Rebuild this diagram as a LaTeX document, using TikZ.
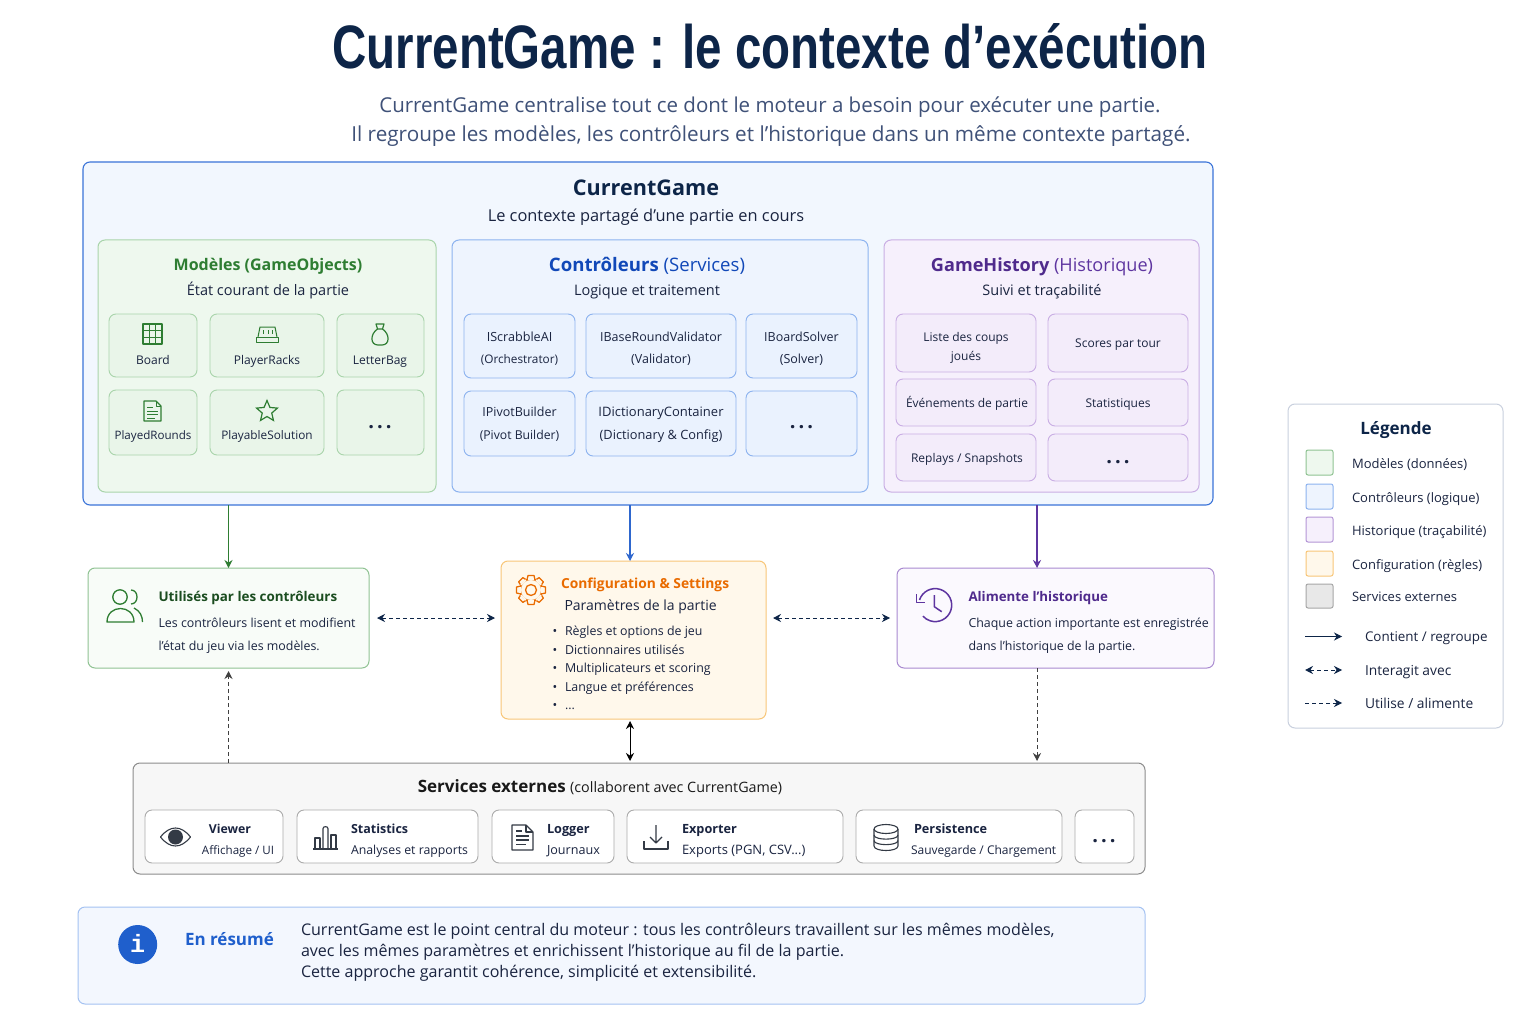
\documentclass[tikz,border=0pt]{standalone}
\usepackage{fontspec}
\usepackage{graphicx}
\setmainfont{Open Sans}
\newfontfamily\titlefont{Liberation Sans}
\newfontfamily\infofont{Liberation Mono}
\usetikzlibrary{arrows.meta,shapes.geometric,calc}
\definecolor{navy}{HTML}{0D2548}
\definecolor{ink}{HTML}{1A2440}
\definecolor{subt}{HTML}{3F5178}
\definecolor{gS}{HTML}{A9D4AB}\definecolor{gF}{HTML}{EEF8EE}\definecolor{gC}{HTML}{E9F5E9}\definecolor{gD}{HTML}{2E7D32}\definecolor{gDD}{HTML}{1B4D20}
\definecolor{bS}{HTML}{8DB3EF}\definecolor{bF}{HTML}{EEF4FE}\definecolor{bC}{HTML}{EAF2FE}\definecolor{bD}{HTML}{1148B8}\definecolor{bM}{HTML}{3B74D8}\definecolor{bR}{HTML}{1F5FCC}
\definecolor{pS}{HTML}{C9AEE4}\definecolor{pF}{HTML}{F6F0FC}\definecolor{pC}{HTML}{F3ECFA}\definecolor{pD}{HTML}{4F2A8C}\definecolor{pM}{HTML}{5E35A0}
\definecolor{oS}{HTML}{F8C678}\definecolor{oF}{HTML}{FFF8EB}\definecolor{oD}{HTML}{E96B00}
\definecolor{xS}{HTML}{8C8C8C}\definecolor{xC}{HTML}{ABABAB}\definecolor{xI}{HTML}{333A45}
\definecolor{legS}{HTML}{C9D0DE}
\newcommand{\fs}[1]{\fontsize{#1}{#1}\selectfont}
\newcounter{tn}
\newcommand{\tx}[6][mid]{\stepcounter{tn}\node[anchor=#1,inner sep=0pt,outer sep=0pt,text=#5,font=\fs{#4},yshift={2.26pt-0.33*#4 pt}] (t\arabic{tn}) at (#2,#3) {#6};}
\newcommand{\bx}[6]{\pgfmathsetmacro\bw{#5-#3}\pgfmathsetmacro\bh{#6-#4}\node[#2,anchor=north west,minimum width=\bw pt,minimum height=\bh pt] (#1) at (#3,#4) {};}
\newcommand{\cellmore}{\textbf{.\hspace{3pt}.\hspace{3pt}.}}
\tikzset{
  x=1pt,y=-1pt,
  base/.style={draw,rectangle,rounded corners=7pt,inner sep=0pt,outer sep=0pt,line width=1pt},
  cgbox/.style={base,draw=bM,fill=bF!75!white,line width=1.1pt},
  mbox/.style={base,draw=gS,fill=gF},
  cbox/.style={base,draw=bS,fill=bF},
  hbox/.style={base,draw=pS,fill=pF},
  mcell/.style={base,draw=gS,fill=gC,line width=.9pt},
  ccell/.style={base,draw=bS,fill=bC,line width=.9pt},
  hcell/.style={base,draw=pS,fill=pC,line width=.9pt},
  usedbox/.style={base,draw=gS!80!gD,fill=gF!40!white},
  cfgbox/.style={base,draw=oS,fill=oF},
  histbox/.style={base,draw=pS!70!pM,fill=pF!40!white},
  extbox/.style={base,draw=xS,fill=white!97!black},
  extcell/.style={base,draw=xC,fill=white,line width=.9pt},
  sumbox/.style={base,draw=bS!80!white,fill=bF!70!white},
  legbox/.style={base,draw=legS,fill=white},
  sw/.style={base,rounded corners=2pt},
  gI/.style={draw=gD,line width=1.2pt,line join=round},
  xIc/.style={draw=xI,line width=1.1pt,line join=round},
  tipS/.style={-{Stealth[length=8pt,width=8pt]}},
  tipB/.style={{Stealth[length=8pt,width=8pt]}-{Stealth[length=8pt,width=8pt]}},
  dsh/.style={dash pattern=on 4pt off 3pt},
  lk/.style={line width=1pt,draw=navy},
}
\begin{document}
\begin{tikzpicture}
\path[use as bounding box,fill=white] (0,0) rectangle (1536,1024);
% title
\tx[center]{770}{35.4}{40}{navy}{\resizebox{875pt}{45pt}{\titlefont\bfseries CurrentGame : le contexte d’exécution}}
\tx{770}{105}{20.5}{subt}{CurrentGame centralise tout ce dont le moteur a besoin pour exécuter une partie.}
\tx{771}{134}{20.7}{subt}{Il regroupe les modèles, les contrôleurs et l’historique dans un même contexte partagé.}
% main container
\bx{cg}{cgbox}{83}{162}{1213}{505}
\tx{646}{188}{21.6}{navy}{\textbf{CurrentGame}}
\tx{646}{216}{16.4}{ink}{Le contexte partagé d’une partie en cours}
\bx{models}{mbox}{98}{240}{436}{492}
\bx{ctrls}{cbox}{452}{240}{868}{492}
\bx{hists}{hbox}{884}{240}{1199}{492}
\tx{268}{265}{16}{gD}{\textbf{Modèles (GameObjects)}}
\tx{268}{290}{14.5}{ink}{État courant de la partie}
\tx{647}{265}{18.6}{bD}{\textbf{Contrôleurs} (Services)}
\tx{647}{290}{14.5}{ink}{Logique et traitement}
\tx{1042}{265}{18.1}{pD}{\textbf{GameHistory} {\color{pM}(Historique)}}
\tx{1042}{290}{14.5}{ink}{Suivi et traçabilité}
% model cells
\bx{mA}{mcell}{109}{314}{197}{377}
\bx{mB}{mcell}{210}{314}{324}{377}
\bx{mC}{mcell}{337}{314}{424}{377}
\bx{mD}{mcell}{109}{390}{197}{455}
\bx{mE}{mcell}{210}{390}{324}{455}
\bx{mF}{mcell}{337}{390}{424}{455}
\tx{153}{360}{12}{ink}{Board}
\tx{267}{360}{12}{ink}{PlayerRacks}
\tx{380}{360}{12}{ink}{LetterBag}
\tx{153}{435}{11.6}{ink}{PlayedRounds}
\tx{267}{435}{11.8}{ink}{PlayableSolution}
\tx{380}{421.6}{20}{ink}{\cellmore}
% icons models
\draw[gI] (143,324) rectangle (162,344);
\foreach \k in {1,2}{\draw[gI,line width=1pt] ($(143,324)+(\k*6.33,0)$) -- ++(0,20); \draw[gI,line width=1pt] ($(143,324)+(0,\k*6.67)$) -- ++(19,0);}
\draw[gI,line width=1pt] (258,337) -- (260,327) -- (275,327) -- (277,337);
\draw[gI,line width=1pt] (256,337) rectangle (278,342);
\draw[gI,line width=1pt] (263,330) -- (263,334) (268,330) -- (268,334) (272,330) -- (272,334);
\draw[gI] (376,324) -- (384,324) -- (382.5,329) -- (377.5,329) -- cycle;
\draw[gI] (377.5,329) .. controls (370,334) and (370,345) .. (378,345) -- (382,345) .. controls (390,345) and (390,334) .. (382.5,329);
\draw[gI] (144,401) -- (156,401) -- (161,406) -- (161,421) -- (144,421) -- cycle;
\draw[gI,line width=.9pt] (156,401) -- (156,406) -- (161,406);
\draw[gI,line width=.9pt] (147,407) -- (153,407) (147,411) -- (158,411) (147,414.5) -- (158,414.5) (147,418) -- (155,418);
\node[star,star points=5,star point ratio=2.2,draw=gD,line width=1.2pt,minimum size=22pt,inner sep=0pt] (starI) at (267,411.5) {};
% controller cells
\bx{cA}{ccell}{464}{314}{575}{378}
\bx{cB}{ccell}{586}{314}{736}{378}
\bx{cC}{ccell}{746}{314}{857}{378}
\bx{cD}{ccell}{464}{391}{575}{456}
\bx{cE}{ccell}{586}{391}{736}{456}
\bx{cF}{ccell}{746}{391}{857}{456}
\tx{519.5}{337}{12.6}{ink}{IScrabbleAI}
\tx{519.5}{359}{11.8}{ink}{(Orchestrator)}
\tx{661}{337}{12.5}{ink}{IBaseRoundValidator}
\tx{661}{359}{12.5}{ink}{(Validator)}
\tx{801.5}{337}{12.5}{ink}{IBoardSolver}
\tx{801.5}{359}{12.5}{ink}{(Solver)}
\tx{519.5}{412}{12.5}{ink}{IPivotBuilder}
\tx{519.5}{435}{12.2}{ink}{(Pivot Builder)}
\tx{661}{412}{13}{ink}{IDictionaryContainer}
\tx{661}{435}{12.8}{ink}{(Dictionary \& Config)}
\tx{801.5}{421}{20}{ink}{\cellmore}
% history cells
\bx{hA}{hcell}{896}{314}{1036}{372}
\bx{hB}{hcell}{1048}{314}{1188}{372}
\bx{hC}{hcell}{896}{379}{1036}{426}
\bx{hD}{hcell}{1048}{379}{1188}{426}
\bx{hE}{hcell}{896}{434}{1036}{481}
\bx{hF}{hcell}{1048}{434}{1188}{481}
\tx{966}{337}{12}{ink}{Liste des coups}
\tx{966}{356}{12}{ink}{joués}
\tx{1118}{343}{12}{ink}{Scores par tour}
\tx{967}{403}{12}{ink}{Événements de partie}
\tx{1118}{403}{12}{ink}{Statistiques}
\tx{967}{458}{12}{ink}{Replays / Snapshots}
\tx{1118}{456}{20}{ink}{\cellmore}
% middle boxes
\bx{used}{usedbox}{88}{568}{369}{668}
\bx{config}{cfgbox}{501}{561}{766}{719}
\bx{hist}{histbox}{897}{568}{1214}{668}
\tx[mid west]{158.5}{597}{13.4}{gDD}{\textbf{Utilisés par les contrôleurs}}
\tx[mid west]{158.5}{623}{12.4}{ink}{Les contrôleurs lisent et modifient}
\tx[mid west]{158.5}{646}{12.4}{ink}{l'état du jeu via les modèles.}
\draw[gI,line width=1.3pt] (120,597) circle[radius=7.2pt];
\draw[gI,line width=1.3pt] (107,622) .. controls (107,604) and (134,604) .. (134,622) -- cycle;
\draw[gI,line width=1.3pt] (131,590) .. controls (139,590) and (139,604) .. (131,604);
\draw[gI,line width=1.3pt] (134,608) .. controls (140,611) and (142.5,616) .. (142.5,622);
\tx[mid west]{561}{584}{13.8}{oD}{\textbf{Configuration \& Settings}}
\tx[mid west]{564.5}{605}{14}{ink}{Paramètres de la partie}
\foreach \yy/\itemtxt in {631/Règles et options de jeu,650/Dictionnaires utilisés,668/Multiplicateurs et scoring,687/Langue et préférences}{
  \tx[mid west]{565}{\yy}{12.4}{ink}{\itemtxt}
  \tx[mid west]{552.5}{\yy}{12.4}{ink}{•}
}
\tx[mid west]{565}{705}{12.4}{ink}{...}
\tx[mid west]{552.5}{705}{12.4}{ink}{•}
\foreach \a in {0,45,...,315}{\draw[draw=oD,line width=1.3pt,line join=round,rotate around={\a:(531,590)}] (527,580) -- (528,575.5) -- (534,575.5) -- (535,580);}
\draw[draw=oD,fill=oF,line width=1.3pt] (531,590) circle[radius=10.8pt];
\foreach \a in {0,45,...,315}{\draw[draw=oF,line width=1.8pt,rotate around={\a:(531,590)}] (527.6,579.3) -- (534.4,579.3);}
\draw[draw=oD,line width=1.3pt] (531,590) circle[radius=5.5pt];
\tx[mid west]{968.5}{597}{13.3}{pD}{\textbf{Alimente l’historique}}
\tx[mid west]{968.5}{623}{12.4}{ink}{Chaque action importante est enregistrée}
\tx[mid west]{968.5}{646}{12.4}{ink}{dans l’historique de la partie.}
\draw[draw=pM,line width=1.5pt] (919.5,600) arc[start angle=162,delta angle=-300,radius=16.5pt];
\draw[draw=pM,line width=1.5pt,line join=round] (916.7,594) -- (916.7,602.3) -- (925,602.3);
\draw[draw=pM,line width=1.5pt,line join=round] (934.3,595) -- (934.3,606.7) -- (941.7,611.7);
% external services
\bx{ext}{extbox}{133}{763}{1145}{874}
\tx{600}{786}{17}{black!90}{\textbf{Services externes} {\fs{14.3}(collaborent avec CurrentGame)}}
\bx{eA}{extcell}{145}{810}{283}{863}
\bx{eB}{extcell}{297}{810}{478}{863}
\bx{eC}{extcell}{492}{810}{614}{863}
\bx{eD}{extcell}{627}{810}{843}{863}
\bx{eE}{extcell}{856}{810}{1062}{863}
\bx{eF}{extcell}{1075}{810}{1134}{863}
\tx{230}{829}{12.3}{ink}{\textbf{Viewer}}
\tx{238}{850}{11.6}{ink}{Affichage / UI}
\tx[mid west]{351}{829}{12.5}{ink}{\textbf{Statistics}}
\tx[mid west]{351}{850}{12.3}{ink}{Analyses et rapports}
\tx[mid west]{547}{829}{12.7}{ink}{\textbf{Logger}}
\tx[mid west]{547}{850}{12.6}{ink}{Journaux}
\tx[mid west]{682}{829}{12.7}{ink}{\textbf{Exporter}}
\tx[mid west]{682}{850}{13}{ink}{Exports (PGN, CSV...)}
\tx[mid west]{914}{829}{12.7}{ink}{\textbf{Persistence}}
\tx[mid west]{911}{850}{12}{ink}{Sauvegarde / Chargement}
\tx{1104}{835}{20}{ink}{\cellmore}
\draw[xIc] (160.5,837) .. controls (170,825) and (181,825) .. (190.5,837) .. controls (181,849) and (170,849) .. (160.5,837) -- cycle;
\fill[xI] (175.5,837) circle[radius=7.5pt];
\draw[xIc] (313,849) -- (338,849);
\draw[xIc] (315,849) -- (315,838) -- (320,838) -- (320,849);
\draw[xIc] (323,849) -- (323,828.5) .. controls (323,826) and (328,826) .. (328,828.5) -- (328,849);
\draw[xIc] (331,849) -- (331,835) -- (336,835) -- (336,849);
\draw[xIc] (512,825) -- (526,825) -- (533,832) -- (533,850) -- (512,850) -- cycle;
\draw[xIc] (526,825) -- (526,832) -- (533,832);
\draw[xIc] (516,831) -- (522,831) (516,836) -- (529,836) (516,840) -- (529,840) (516,844.5) -- (526,844.5);
\draw[xIc] (656,825) -- (656,843) (650,837) -- (656,843) -- (662,837);
\draw[xIc] (644,841) -- (644,849) -- (668,849) -- (668,841);
\draw[xIc] (874,829) -- (874,846) .. controls (874,852) and (898,852) .. (898,846) -- (898,829);
\draw[xIc] (886,829) ellipse[x radius=12pt,y radius=4.5pt];
\draw[xIc] (874,835) .. controls (874,840.5) and (898,840.5) .. (898,835);
\draw[xIc] (874,840.5) .. controls (874,846) and (898,846) .. (898,840.5);
% summary
\bx{sum}{sumbox}{78}{907}{1145}{1004}
\node[circle,fill=bR,minimum size=39pt,inner sep=0pt,outer sep=0pt] (infoI) at (137.7,944.5) {};
\tx{137.7}{943.5}{25}{white}{\infofont\bfseries i}
\tx[mid west]{185}{939}{17}{bR}{\textbf{En résumé}}
\tx[mid west]{301}{930}{16.05}{ink}{CurrentGame est le point central du moteur : tous les contrôleurs travaillent sur les mêmes modèles,}
\tx[mid west]{301}{951}{16.05}{ink}{avec les mêmes paramètres et enrichissent l’historique au fil de la partie.}
\tx[mid west]{301}{972}{16.05}{ink}{Cette approche garantit cohérence, simplicité et extensibilité.}
% legend
\bx{leg}{legbox}{1288}{404}{1503}{728}
\tx{1396}{428}{17}{navy}{\textbf{Légende}}
\bx{s1}{sw,draw=gS!80!gD,fill=gF}{1306}{450}{1333}{475}
\bx{s2}{sw,draw=bS,fill=bF}{1306}{484}{1333}{509}
\bx{s3}{sw,draw=pS!80!pM,fill=pF}{1306}{517}{1333}{542}
\bx{s4}{sw,draw=oS,fill=oF}{1306}{551}{1333}{576}
\bx{s5}{sw,draw=black!35,fill=black!9}{1306}{584}{1333}{608}
\tx[mid west]{1352}{464}{13}{ink}{Modèles (données)}
\tx[mid west]{1352}{498}{13}{ink}{Contrôleurs (logique)}
\tx[mid west]{1352}{531}{13}{ink}{Historique (traçabilité)}
\tx[mid west]{1352}{565}{13}{ink}{Configuration (règles)}
\tx[mid west]{1352}{597}{13}{ink}{Services externes}
\tx[mid west]{1365}{637}{13.4}{ink}{Contient / regroupe}
\tx[mid west]{1365}{671}{13.8}{ink}{Interagit avec}
\tx[mid west]{1365}{704}{13.8}{ink}{Utilise / alimente}
\coordinate (lA) at (1305,636.5); \coordinate (lB) at (1342,636.5);
\coordinate (lC) at (1305,670); \coordinate (lD) at (1342,670);
\coordinate (lE) at (1305,703); \coordinate (lF) at (1342,703);
\draw[lk,tipS] (lA) -- (lB);
\draw[lk,tipB,dsh] (lC) -- (lD);
\draw[lk,tipS,dsh] (lE) -- (lF);
% connectors
\coordinate (bluex) at (630,0);
\coordinate (purpx) at (1037,0);
\draw[line width=1.2pt,draw=gD,tipS] (cg.south -| used.north) -- (used.north);
\draw[line width=1.1pt,draw=bM!70!bD,tipS] (cg.south -| bluex) -- (config.north -| bluex);
\draw[line width=1.1pt,draw=pM,tipS] (cg.south -| purpx) -- (hist.north -| purpx);
\draw[lk,tipB,dsh,shorten <=8pt,shorten >=6pt] (used.east) -- (used.east -| config.west);
\draw[lk,tipB,dsh,shorten <=7pt,shorten >=7pt] (hist.west -| config.east) -- (hist.west);
\draw[lk,draw=black!75,tipS,dsh,shorten >=3pt] (ext.north -| used.south) -- (used.south);
\draw[lk,draw=black,tipB,shorten <=2pt,shorten >=2pt] (config.south -| bluex) -- (ext.north -| bluex);
\draw[lk,draw=black!75,tipS,dsh,shorten >=2pt] (hist.south -| purpx) -- (ext.north -| purpx);
\end{tikzpicture}
\end{document}
